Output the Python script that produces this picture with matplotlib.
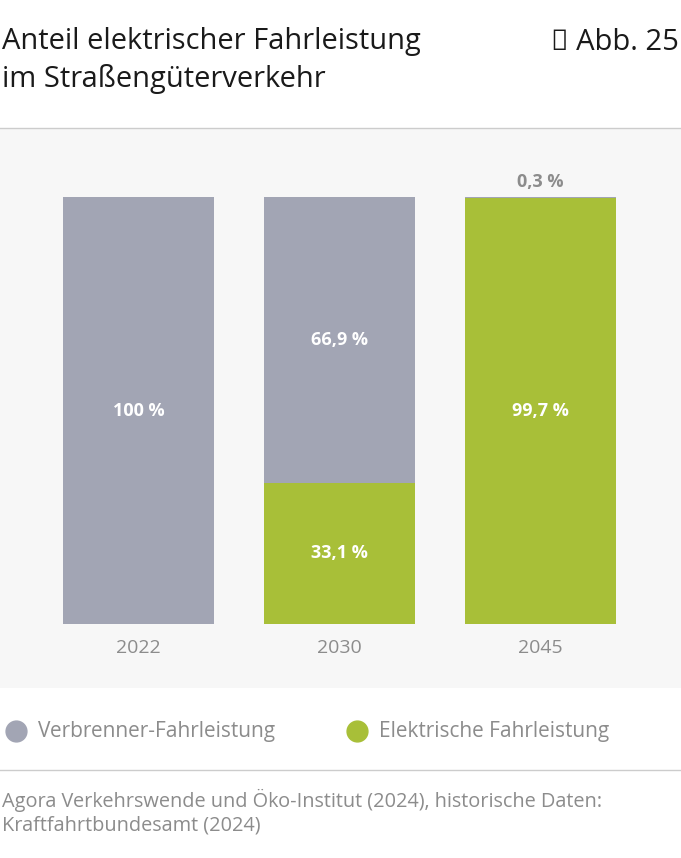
import matplotlib.pyplot as plt
from matplotlib.patches import Rectangle
from matplotlib.lines import Line2D

plt.rcParams["font.family"] = "Open Sans"

years = ["2022", "2030", "2045"]
combustion = [100.0, 66.9, 0.3]
electric = [0.0, 33.1, 99.7]
combustion_labels = ["100 %", "66,9 %", "0,3 %"]
electric_labels = ["", "33,1 %", "99,7 %"]
legend_labels = ["Verbrenner-Fahrleistung", "Elektrische Fahrleistung"]

GRAY = "#a2a5b4"
GREEN = "#a8bf38"
TEXT = "#1a1a1a"
LIGHT = "#8c8c8c"

W, H = 681, 858
fig = plt.figure(figsize=(W / 100, H / 100), dpi=100)
fig.patch.set_facecolor("white")

def fy(px):
    return 1 - px / H

# title
fig.text(2 / W, fy(42), "Anteil elektrischer Fahrleistung", fontsize=21, color=TEXT, va="center")
fig.text(2 / W, fy(79), "im Straßengüterverkehr", fontsize=21, color=TEXT, va="center")
fig.text(679 / W, fy(42), "→ Abb. 25", fontsize=21, color=TEXT, va="center", ha="right")

# background panel and separators
fig.patches.append(Rectangle((0, fy(688)), 1, (688 - 128) / H, transform=fig.transFigure,
                             facecolor="#f7f7f7", edgecolor="none", zorder=0))
for y in (128, 770):
    fig.add_artist(Line2D([0, 1], [fy(y), fy(y)], color="#cccccc", lw=1))

# bars
ax = fig.add_axes([0, fy(624), 1, (624 - 197) / H])
ax.set_zorder(2)
ax.set_facecolor("none")
x = list(range(len(years)))
ax.bar(x, electric, width=0.75, color=GREEN)
ax.bar(x, combustion, width=0.75, bottom=electric, color=GRAY)
ax.set_xlim(-138.5 / 201, (W - 138.5) / 201)
ax.set_ylim(0, 100)
ax.axis("off")

for i in x:
    if combustion[i] > 5:
        ax.text(i, electric[i] + combustion[i] / 2, combustion_labels[i], ha="center", va="center",
                color="white", fontsize=13, fontweight="bold", clip_on=False)
    else:
        ax.text(i, 100 + 3.5, combustion_labels[i], ha="center", va="center",
                color=LIGHT, fontsize=13, fontweight="bold", clip_on=False)
    if electric_labels[i]:
        ax.text(i, electric[i] / 2, electric_labels[i], ha="center", va="center",
                color="white", fontsize=13, fontweight="bold")
    ax.text(i, -5.6, years[i], ha="center", va="center", color=LIGHT, fontsize=14, clip_on=False)

# legend
for cx, col, lab in ((16, GRAY, legend_labels[0]), (357, GREEN, legend_labels[1])):
    fig.add_artist(Line2D([cx / W], [fy(731)], marker="o", markersize=15, color=col, lw=0))
    fig.text((cx + 22) / W, fy(731), lab, fontsize=15, color=LIGHT, va="center")

# source
fig.text(2 / W, fy(800), "Agora Verkehrswende und Öko-Institut (2024), historische Daten:",
         fontsize=14.3, color=LIGHT, va="center")
fig.text(2 / W, fy(826), "Kraftfahrtbundesamt (2024)", fontsize=14.3, color=LIGHT, va="center")

fig.savefig("out.png", dpi=100)
